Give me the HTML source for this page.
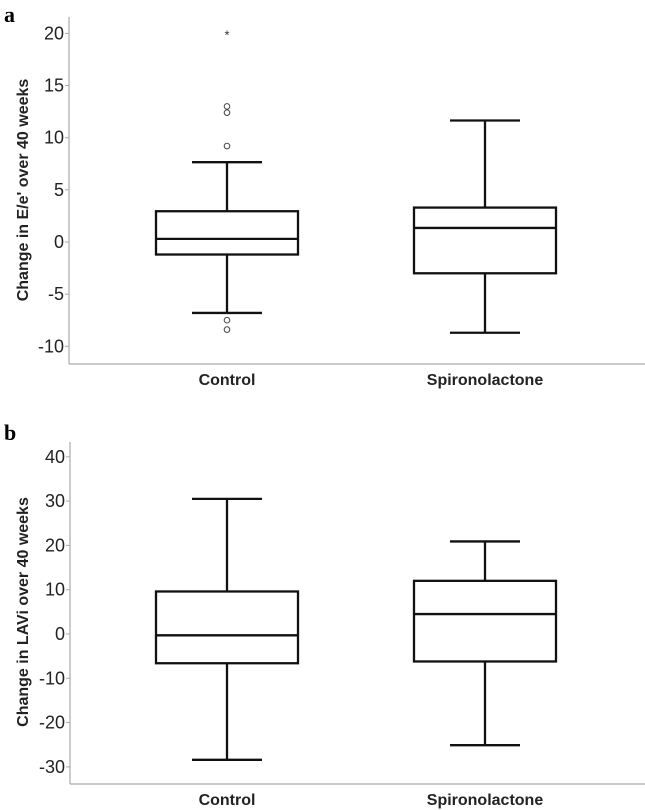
<!DOCTYPE html>
<html><head><meta charset="utf-8"><style>
body{margin:0;background:#fff;}
svg{display:block;font-family:"Liberation Sans",Arial,sans-serif;}
</style></head><body>
<svg id="chart" width="645" height="810" viewBox="0 0 645 810">
<text x="4" y="22" font-family="Liberation Serif,serif" font-weight="bold" font-size="22">a</text>
<text x="4" y="440" font-family="Liberation Serif,serif" font-weight="bold" font-size="22">b</text>
</svg>
<script>
const categories = ["Control", "Spironolactone"];
// panel a: [lowerWhisker, Q1, median, Q3, upperWhisker]
const aControl = [-6.8, -1.2, 0.3, 2.95, 7.65];
const aSpiro = [-8.7, -3.0, 1.35, 3.3, 11.65];
const aControlOutliers = [13.0, 12.4, 9.2, -7.5, -8.4];
const aControlExtremes = [20];
const aTicks = [20, 15, 10, 5, 0, -5, -10];
// panel b
const bControl = [-28.4, -6.6, -0.3, 9.6, 30.5];
const bSpiro = [-25.1, -6.2, 4.5, 12.0, 20.9];
const bTicks = [40, 30, 20, 10, 0, -10, -20, -30];

const svg = document.getElementById('chart');
const NS = 'http://www.w3.org/2000/svg';
function mk(tag, attrs, parent){const e=document.createElementNS(NS,tag);for(const k in attrs)e.setAttribute(k,attrs[k]);(parent||svg).appendChild(e);return e;}
const xCenters = [227, 485];
function xPos(i){return xCenters[i];}

function panel(opts){
  const g = mk('g',{});
  
  
  const y = v => opts.y0 - v*opts.k;
  const ax = mk('line',{x1:opts.axX,y1:opts.top,x2:opts.axX,y2:opts.bottom,stroke:'#aaa','stroke-width':1.2},g);
  
  
  const bx = mk('line',{x1:opts.axX,y1:opts.bottom,x2:645,y2:opts.bottom,stroke:'#aaa','stroke-width':1.2},g);
  
  
  opts.ticks.forEach(t=>{
    mk('line',{x1:opts.axX-4,y1:y(t),x2:opts.axX,y2:y(t),stroke:'#aaa'},g);
    const tl = mk('text',{x:opts.axX-5,y:y(t)+6,'text-anchor':'end','font-size':18,fill:'#222'},g);
    tl.textContent = t;
    
    
  });
  const tt = mk('text',{x:0,y:0,'text-anchor':'middle','font-size':16,'font-weight':'bold',fill:'#222',transform:`translate(28,${opts.titleY}) rotate(-90)`},g);
  tt.textContent = opts.title;
  
  
  opts.series.forEach((s,i)=>{
    const cx = xPos(i);
    const bg = mk('g',{stroke:'#111','stroke-width':2.3,fill:'none'},g);
    
    
    mk('line',{x1:cx,y1:y(s[4]),x2:cx,y2:y(s[3])},bg);
    mk('line',{x1:cx,y1:y(s[1]),x2:cx,y2:y(s[0])},bg);
    mk('line',{x1:cx-35,y1:y(s[4]),x2:cx+35,y2:y(s[4])},bg);
    mk('line',{x1:cx-35,y1:y(s[0]),x2:cx+35,y2:y(s[0])},bg);
    mk('rect',{x:cx-71,y:y(s[3]),width:142,height:y(s[1])-y(s[3])},bg);
    mk('line',{x1:cx-71,y1:y(s[2]),x2:cx+71,y2:y(s[2])},bg);
    const cl = mk('text',{x:cx,y:opts.bottom+21,'text-anchor':'middle','font-size':16,'font-weight':'bold',fill:'#222'},g);
    cl.textContent = categories[i];
    
    
  });
  (opts.outliers||[]).forEach(o=>{
    const c = mk('circle',{cx:xPos(0),cy:y(o),r:2.8,fill:'none',stroke:'#444','stroke-width':1},g);
    
    
  });
  (opts.extremes||[]).forEach(o=>{
    const s = mk('text',{x:xPos(0),y:y(o)+6,'text-anchor':'middle','font-size':13,fill:'#333'},g);
    s.textContent = '*';
    
    
  });
}
panel({name:'panel-a-chart',axX:69,top:17,bottom:364,y0:242,k:10.43,ticks:aTicks,title:"Change in E/e' over 40 weeks",titleY:190,series:[aControl,aSpiro],outliers:aControlOutliers,extremes:aControlExtremes});
panel({name:'panel-b-chart',axX:70,top:442,bottom:784,y0:634,k:4.43,ticks:bTicks,title:"Change in LAVi over 40 weeks",titleY:612,series:[bControl,bSpiro]});
</script>
</body></html>
